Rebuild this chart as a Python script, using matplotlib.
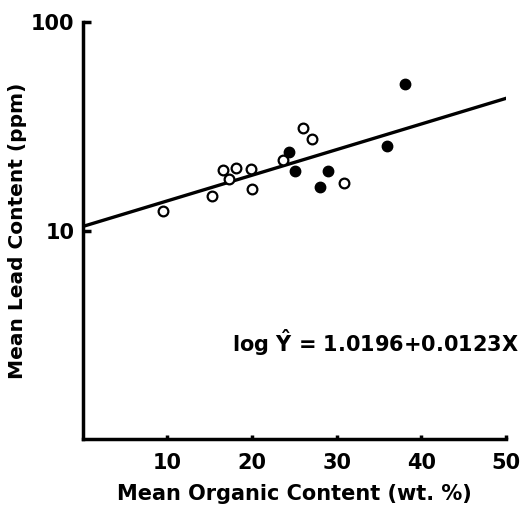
import matplotlib
matplotlib.use("Agg")
import matplotlib.pyplot as plt
import numpy as np

# open circles
open_x = [9.5, 15.3, 16.6, 17.3, 18.1, 19.9, 20.0, 23.6, 26.0, 27.1, 30.9]
open_y = [12.4, 14.7, 19.5, 17.7, 20.0, 19.7, 15.9, 21.7, 31.0, 27.4, 17.0]
# filled circles
fill_x = [24.4, 25.1, 28.0, 29.0, 35.9, 38.1]
fill_y = [23.8, 19.3, 16.1, 19.3, 25.4, 50.6]

intercept = 1.0196
slope = 0.0123
x_ticks = [10, 20, 30, 40, 50]
y_ticks = [10, 100]

plt.rcParams['font.family'] = ['DejaVu Sans']
plt.rcParams['font.weight'] = 'bold'
plt.rcParams['axes.labelweight'] = 'bold'

fig = plt.figure(figsize=(5.31, 5.05), dpi=100)
ax = fig.add_axes([0.156, 0.131, 0.797, 0.825])

fit_x = np.array([0, 50])
ax.plot(fit_x, 10 ** (intercept + slope * fit_x), color='black', linewidth=2.4)
ax.plot(open_x, open_y, 'o', markersize=7, markerfacecolor='white',
        markeredgecolor='black', markeredgewidth=1.6, linestyle='none')
ax.plot(fill_x, fill_y, 'o', markersize=7.5, color='black', linestyle='none')

ax.set_yscale('log')
ax.set_xlim(0, 50)
ax.set_ylim(1, 100)
ax.set_xticks(x_ticks)
ax.set_yticks(y_ticks)
ax.set_yticklabels(['10', '100'])
ax.minorticks_off()
ax.tick_params(axis='x', direction='in', length=3, width=2.5, labelsize=15, pad=10)
ax.tick_params(axis='y', direction='in', length=6, width=2.5, labelsize=15, pad=6)

for s in ['top', 'right']:
    ax.spines[s].set_visible(False)
for s in ['left', 'bottom']:
    ax.spines[s].set_linewidth(2.5)

ax.set_xlabel('Mean Organic Content (wt. %)', fontsize=15, labelpad=8)
ax.set_ylabel('Mean Lead Content (ppm)', fontsize=14.5, labelpad=3)

ax.text(0.352, 0.23, r'log $\mathbf{\hat{Y}}$ = 1.0196+0.0123X', transform=ax.transAxes,
        fontsize=15, fontweight='bold', ha='left', va='center')

fig.savefig('out.png', dpi=100)
